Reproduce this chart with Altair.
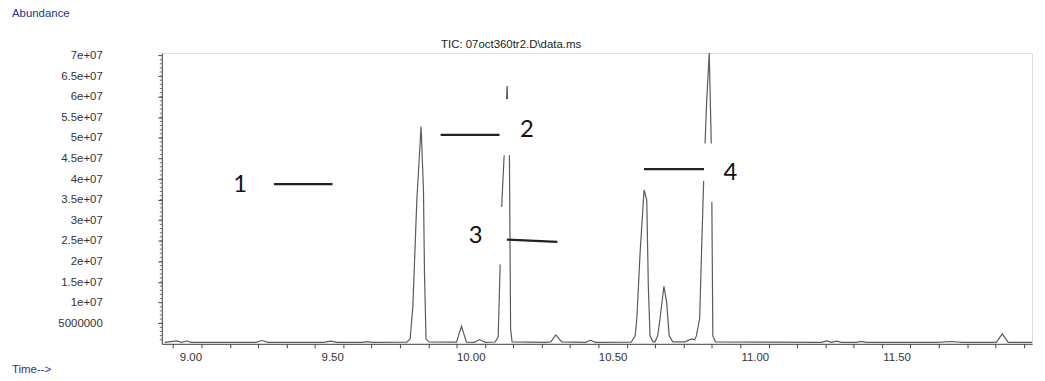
import json
import altair as alt
import pandas as pd

# ---------------- data ----------------
trace_time = [
    8.8705, 8.9125, 8.9300, 8.9475, 8.9650, 9.1924, 9.2134, 9.2344,
    9.4304, 9.4549, 9.4794, 9.5669, 9.5844, 9.6019,
    9.7244, 9.7359, 9.7454, 9.7594, 9.7744, 9.7828, 9.7863, 9.7919, 9.8014,
    9.8993, 9.9168, 9.9343, 9.9623, 9.9809, 10.0008,
    10.0358, 10.0463, 10.0533, 10.0586, 10.0673, 10.0778, 10.0859, 10.0901, 10.0953,
    10.2143, 10.2318, 10.2493, 10.2703, 10.3543, 10.3718, 10.3893,
    10.5153, 10.5293, 10.5352, 10.5468, 10.5608, 10.5702, 10.5758, 10.5818, 10.5923,
    10.5993, 10.6087, 10.6168, 10.6308, 10.6402, 10.6493, 10.6622,
    10.7042, 10.7287, 10.7392, 10.7451, 10.7567, 10.7637, 10.7707, 10.7812, 10.7907,
    10.7977, 10.7998, 10.8033, 10.8127,
    11.1870, 11.2045, 11.2220, 11.2395, 11.2570, 11.3095, 11.3270, 11.3445,
    11.5965, 11.6420, 11.6840, 11.8030, 11.8240, 11.8450, 11.9290,
]
trace_abundance = [
    0.36e6, 0.73e6, 0.36e6, 0.68e6, 0.36e6, 0.36e6, 0.80e6, 0.36e6,
    0.36e6, 0.65e6, 0.36e6, 0.36e6, 0.54e6, 0.36e6,
    0.39e6, 1.21e6, 9.16e6, 34.93e6, 52.77e6, 37.35e6, 17.35e6, 1.21e6, 0.44e6,
    0.39e6, 4.29e6, 0.39e6, 0.36e6, 1.03e6, 0.36e6,
    0.44e6, 1.69e6, 19.28e6, 33.25e6, 45.79e6, 62.64e6, 45.79e6, 3.61e6, 0.48e6,
    0.36e6, 0.48e6, 2.17e6, 0.48e6, 0.36e6, 0.85e6, 0.36e6,
    0.39e6, 1.93e6, 6.02e6, 22.17e6, 37.35e6, 34.93e6, 13.98e6, 1.93e6, 0.48e6,
    0.48e6, 1.93e6, 6.02e6, 13.98e6, 10.12e6, 1.93e6, 0.48e6,
    0.48e6, 1.21e6, 0.96e6, 1.93e6, 6.02e6, 22.89e6, 39.04e6, 58.45e6, 70.6e6,
    48.67e6, 34.46e6, 1.93e6, 0.48e6,
    0.36e6, 0.72e6, 0.36e6, 0.65e6, 0.36e6, 0.36e6, 0.60e6, 0.36e6,
    0.36e6, 0.56e6, 0.36e6, 0.36e6, 2.41e6, 0.36e6, 0.36e6,
]

# peak annotations ("1".."4") and their pointer lines
label_text = ["1", "2", "3", "4"]
label_time = [9.1365, 10.1478, 9.967, 10.865]
label_abund = [38.55e6, 51.81e6, 26.11e6, 41.37e6]
line_t1 = [9.2554, 9.8433, 10.077, 10.5607]
line_t2 = [9.4619, 10.051, 10.255, 10.772]
line_a1 = [38.79e6, 50.76e6, 25.30e6, 42.41e6]
line_a2 = [38.79e6, 50.76e6, 24.74e6, 42.41e6]

# white patches pasted over the trace in the original figure
mask_t1 = [10.022, 10.004, 10.739, 10.783]
mask_t2 = [10.116, 10.0725, 10.862, 10.862]
mask_a1 = [45.79e6, 19.29e6, 39.51e6, 34.46e6]
mask_a2 = [59.43e6, 33.22e6, 48.67e6, 39.51e6]

# axes
x_tick_values = [round(8.9 + 0.1 * i, 1) for i in range(31)]
y_tick_values = [5e6 * i for i in range(1, 15)]
y_tick_labels = ["5000000", "1e+07", "1.5e+07", "2e+07", "2.5e+07", "3e+07", "3.5e+07",
                 "4e+07", "4.5e+07", "5e+07", "5.5e+07", "6e+07", "6.5e+07", "7e+07"]
y_minor_values = [1e6 * i for i in range(1, 71)]

x_domain = [8.86, 11.929]
y_domain = [0, 70.6e6]

title_text = "TIC: 07oct360tr2.D\\data.ms"
y_title_text = "Abundance"
x_title_text = "Time-->"

# ---------------- chart ----------------
AX_FONT = "Liberation Sans"
xs = alt.Scale(domain=x_domain, nice=False, zero=False)
ys = alt.Scale(domain=y_domain, nice=False, zero=False)

trace_df = pd.DataFrame({"t": trace_time, "a": trace_abundance})
label_df = pd.DataFrame({"txt": label_text, "t": label_time, "a": label_abund})
line_df = pd.DataFrame({"t1": line_t1, "t2": line_t2, "a1": line_a1, "a2": line_a2})
mask_df = pd.DataFrame({"t1": mask_t1, "t2": mask_t2, "a1": mask_a1, "a2": mask_a2})
minor_df = pd.DataFrame({"a": y_minor_values})

y_label_expr = json.dumps(y_tick_labels) + "[round(datum.value/5000000)-1]"
x_label_expr = "abs(datum.value*2 - round(datum.value*2)) < 0.001 ? format(datum.value, '.2f') : ''"

x_axis = alt.Axis(values=x_tick_values, labelExpr=x_label_expr, grid=False,
                  tickSize=4, tickColor="#444444", domainColor="#444444",
                  labelAlign="right", labelPadding=4, labelFont=AX_FONT,
                  labelFontSize=11.5, labelColor="#333333", labelFlush=False,
                  labelOverlap=False, labelBound=False)
y_axis = alt.Axis(values=y_tick_values, labelExpr=y_label_expr, grid=False,
                  tickSize=4, tickColor="#444444", domainColor="#444444",
                  labelPadding=56, labelFont=AX_FONT, labelFontSize=11.5,
                  labelColor="#333333", labelOverlap=False, labelFlush=False,
                  labelBound=False)


def X(field):
    return alt.X(field, scale=xs, title=None, axis=x_axis)


def Y(field):
    return alt.Y(field, scale=ys, title=None, axis=y_axis)


trace = alt.Chart(trace_df).mark_line(color="#5a5a5a", strokeWidth=1.2).encode(
    x=X("t:Q"), y=Y("a:Q"),
)

masks = alt.Chart(mask_df).mark_rect(color="white").encode(
    x=X("t1:Q"), x2="t2:Q", y=Y("a1:Q"), y2="a2:Q",
)

pointers = alt.Chart(line_df).mark_rule(color="#222222", strokeWidth=2.2).encode(
    x=X("t1:Q"), x2="t2:Q", y=Y("a1:Q"), y2="a2:Q",
)

numbers = alt.Chart(label_df).mark_text(font="Lato", fontSize=24, color="#111111",
                                        align="center", baseline="middle").encode(
    x=X("t:Q"), y=Y("a:Q"), text="txt:N",
)

minor = alt.Chart(minor_df).mark_rule(color="#666666", strokeWidth=1).encode(
    x=alt.value(-2), x2=alt.value(0), y=Y("a:Q"),
)

title_mark = alt.Chart(pd.DataFrame({"s": [title_text]})).mark_text(
    font=AX_FONT, fontSize=11.5, color="#222222", align="center", baseline="middle"
).encode(x=alt.value(352), y=alt.value(-8), text="s:N")

ytitle_mark = alt.Chart(pd.DataFrame({"s": [y_title_text]})).mark_text(
    font=AX_FONT, fontSize=11.5, color="#26348c", align="left", baseline="middle"
).encode(x=alt.value(-151), y=alt.value(-39), text="s:N")

xtitle_mark = alt.Chart(pd.DataFrame({"s": [x_title_text]})).mark_text(
    font=AX_FONT, fontSize=11.5, color="#26348c", align="left", baseline="middle"
).encode(x=alt.value(-151), y=alt.value(319), text="s:N")

chart = alt.layer(
    trace, masks, pointers, numbers, minor, title_mark, ytitle_mark, xtitle_mark
).properties(
    width=877, height=293,
    padding={"left": 155, "top": 44, "right": 5, "bottom": 32},
    autosize="none",
).configure_view(stroke=None).configure_axis(labelOverlap=False).configure(background="white")

chart.save("out.html", embed_options={"renderer": "svg", "actions": False})
